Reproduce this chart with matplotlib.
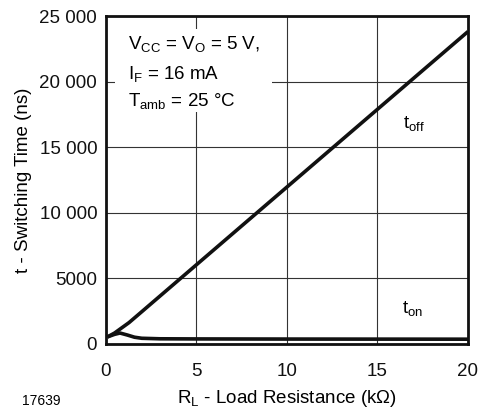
import matplotlib
matplotlib.use("Agg")
import matplotlib.pyplot as plt
from matplotlib.patches import Rectangle

plt.rcParams['font.family'] = ['Liberation Sans', 'DejaVu Sans']
plt.rcParams['mathtext.fontset'] = 'custom'
plt.rcParams['mathtext.rm'] = 'Liberation Sans'
plt.rcParams['mathtext.it'] = 'Liberation Sans'
plt.rcParams['mathtext.bf'] = 'Liberation Sans:bold'

# Data (kOhm, ns)
r_off = [0.1, 0.5, 0.8, 1.0, 1.3, 2.0, 5.0, 10.0, 15.0, 20.0]
t_off = [500, 800, 1100, 1300, 1600, 2430, 6000, 11950, 17900, 23850]
r_on = [0.1, 0.5, 0.8, 1.2, 1.6, 2.0, 3.0, 5.0, 10.0, 20.0]
t_on = [500, 700, 800, 650, 480, 400, 360, 350, 340, 330]

x_ticks = [0, 5, 10, 15, 20]
y_ticks = [0, 5000, 10000, 15000, 20000, 25000]
y_tick_labels = ["0", "5000", "10 000", "15 000", "20 000", "25 000"]

W, H = 483, 411
fig = plt.figure(figsize=(W / 100, H / 100), dpi=100)
ax = fig.add_axes([105.5 / W, (H - 343.5) / H, 362.5 / W, 327 / H])

ax.plot(r_off, t_off, color='#111111', lw=2.6, solid_capstyle='butt', zorder=4)
ax.plot(r_on, t_on, color='#111111', lw=2.6, solid_capstyle='butt', zorder=4)

ax.set_xlim(0, 20)
ax.set_ylim(0, 25000)
ax.set_xticks(x_ticks)
ax.set_xticklabels([str(v) for v in x_ticks])
ax.set_yticks(y_ticks)
ax.set_yticklabels(y_tick_labels)
ax.tick_params(length=0, labelsize=13.5, colors='#111111')
ax.tick_params(axis='x', pad=14)
ax.tick_params(axis='y', pad=6)
ax.grid(True, color='#333333', lw=0.8, zorder=1)
ax.set_axisbelow(True)
for s in ax.spines.values():
    s.set_linewidth(2.0)
    s.set_color('#111111')
    s.set_zorder(5)

ax.set_xlabel(r'R$_{\mathregular{L}}$ - Load Resistance (k$\Omega$)', fontsize=13.5, labelpad=6)
ax.set_ylabel('t - Switching Time (ns)', fontsize=13.5, labelpad=5)

# white box behind the condition text
ax.add_patch(Rectangle((0.025, 0.707), 0.434, 0.256, transform=ax.transAxes,
                       facecolor='white', edgecolor='none', zorder=2))
tx = 0.062
ax.text(tx, 0.9006, r'V$_{\mathregular{CC}}$ = V$_{\mathregular{O}}$ = 5 V,', transform=ax.transAxes,
        fontsize=13.5, va='baseline', zorder=3)
ax.text(tx, 0.809, r'I$_{\mathregular{F}}$ = 16 mA', transform=ax.transAxes,
        fontsize=13.5, va='baseline', zorder=3)
ax.text(tx, 0.726, r'T$_{\mathregular{amb}}$ = 25 °C', transform=ax.transAxes,
        fontsize=13.5, va='baseline', zorder=3)

ax.text(16.4, 16500, r't$_{\mathregular{off}}$', fontsize=13.5, va='baseline', zorder=3)
ax.text(16.35, 2340, r't$_{\mathregular{on}}$', fontsize=13.5, va='baseline', zorder=3)

fig.text(22 / W, 1 - 405 / H, '17639', fontsize=10, va='baseline', ha='left')

fig.savefig('out.png', dpi=100)
